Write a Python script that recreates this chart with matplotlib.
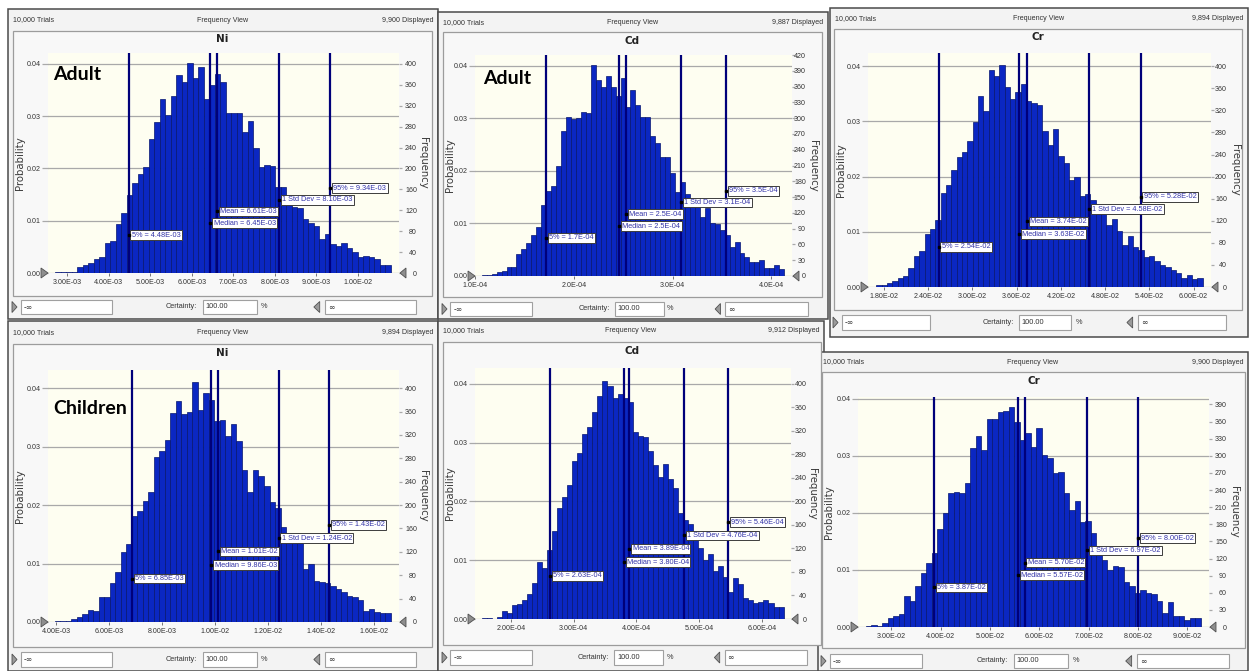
import matplotlib
matplotlib.use("Agg")
import matplotlib.pyplot as plt
from matplotlib.patches import Rectangle, Polygon
import matplotlib.transforms as mtransforms
from matplotlib import font_manager

W, H = 1252, 671

# ------------------------------------------------------------------ data
trials = 10000
trials_label = "10,000 Trials"
view_label = "Frequency View"

# --- Adult Ni
ni_adult_start = 2.704e-3
ni_adult_width = 1.326e-4
ni_adult_prob = [
    0.0002, 0.0001, 0.0002, 0.0002, 0.0012, 0.0015, 0.0020, 0.0026, 0.0031, 0.0058,
    0.0062, 0.0094, 0.0115, 0.0150, 0.0173, 0.0190, 0.0202, 0.0256, 0.0289, 0.0333,
    0.0302, 0.0339, 0.0378, 0.0366, 0.0402, 0.0373, 0.0395, 0.0333, 0.0359, 0.0381,
    0.0366, 0.0307, 0.0306, 0.0306, 0.0270, 0.0290, 0.0240, 0.0202, 0.0206, 0.0205,
    0.0165, 0.0164, 0.0138, 0.0127, 0.0125, 0.0103, 0.0095, 0.0089, 0.0066, 0.0075,
    0.0055, 0.0052, 0.0058, 0.0047, 0.0040, 0.0031, 0.0033, 0.0031, 0.0026, 0.0015, 0.0016]
ni_adult_stats = [4.48e-3, 6.45e-3, 6.61e-3, 8.10e-3, 9.34e-3]
ni_adult_stat_labels = ["5% = 4.48E-03", "Median = 6.45E-03", "Mean = 6.61E-03",
                        "1 Std Dev = 8.10E-03", "95% = 9.34E-03"]
ni_adult_xticks = [3e-3, 4e-3, 5e-3, 6e-3, 7e-3, 8e-3, 9e-3, 1e-2]
ni_adult_xticklabels = ["3.00E-03", "4.00E-03", "5.00E-03", "6.00E-03", "7.00E-03",
                        "8.00E-03", "9.00E-03", "1.00E-02"]
ni_adult_freq_ticks = list(range(0, 401, 40))
ni_adult_displayed = "9,900 Displayed"

# --- Adult Cd
cd_adult_start = 1.068e-4
cd_adult_width = 5.02e-6
cd_adult_prob = [
    0.0002, 0.0002, 0.0004, 0.0007, 0.0010, 0.0017, 0.0017, 0.0042, 0.0051, 0.0062,
    0.0078, 0.0094, 0.0134, 0.0162, 0.0171, 0.0209, 0.0275, 0.0303, 0.0299, 0.0300,
    0.0311, 0.0310, 0.0401, 0.0373, 0.0360, 0.0381, 0.0360, 0.0343, 0.0376, 0.0322,
    0.0354, 0.0325, 0.0303, 0.0303, 0.0266, 0.0252, 0.0227, 0.0227, 0.0195, 0.0160,
    0.0179, 0.0156, 0.0145, 0.0132, 0.0113, 0.0129, 0.0101, 0.0099, 0.0087, 0.0078,
    0.0055, 0.0065, 0.0043, 0.0037, 0.0027, 0.0026, 0.0030, 0.0015, 0.0015, 0.0021, 0.0013]
cd_adult_stats = [1.72e-4, 2.46e-4, 2.53e-4, 3.09e-4, 3.54e-4]
cd_adult_stat_labels = ["5% = 1.7E-04", "Median = 2.5E-04", "Mean = 2.5E-04",
                        "1 Std Dev = 3.1E-04", "95% = 3.5E-04"]
cd_adult_xticks = [1e-4, 2e-4, 3e-4, 4e-4]
cd_adult_xticklabels = ["1.0E-04", "2.0E-04", "3.0E-04", "4.0E-04"]
cd_adult_freq_ticks = list(range(0, 421, 30))
cd_adult_displayed = "9,887 Displayed"

# --- Adult Cr
cr_adult_start = 1.696e-2
cr_adult_width = 7.256e-4
cr_adult_prob = [
    0.0003, 0.0003, 0.0008, 0.0011, 0.0017, 0.0020, 0.0034, 0.0057, 0.0065, 0.0096,
    0.0106, 0.0121, 0.0170, 0.0185, 0.0212, 0.0235, 0.0245, 0.0265, 0.0299, 0.0346,
    0.0319, 0.0394, 0.0383, 0.0402, 0.0363, 0.0340, 0.0354, 0.0367, 0.0337, 0.0334,
    0.0330, 0.0283, 0.0257, 0.0287, 0.0237, 0.0224, 0.0193, 0.0200, 0.0164, 0.0169,
    0.0158, 0.0151, 0.0134, 0.0113, 0.0123, 0.0101, 0.0077, 0.0092, 0.0073, 0.0067,
    0.0055, 0.0056, 0.0048, 0.0040, 0.0037, 0.0031, 0.0025, 0.0016, 0.0022, 0.0014, 0.0017]
cr_adult_stats = [2.54e-2, 3.63e-2, 3.74e-2, 4.58e-2, 5.28e-2]
cr_adult_stat_labels = ["5% = 2.54E-02", "Median = 3.63E-02", "Mean = 3.74E-02",
                        "1 Std Dev = 4.58E-02", "95% = 5.28E-02"]
cr_adult_xticks = [1.8e-2, 2.4e-2, 3.0e-2, 3.6e-2, 4.2e-2, 4.8e-2, 5.4e-2, 6.0e-2]
cr_adult_xticklabels = ["1.80E-02", "2.40E-02", "3.00E-02", "3.60E-02", "4.20E-02",
                        "4.80E-02", "5.40E-02", "6.00E-02"]
cr_adult_freq_ticks = list(range(0, 401, 40))
cr_adult_displayed = "9,894 Displayed"

# --- Children Ni
ni_child_start = 3.937e-3
ni_child_width = 2.081e-4
ni_child_prob = [
    0.0002, 0.0001, 0.0002, 0.0005, 0.0008, 0.0014, 0.0020, 0.0019, 0.0042, 0.0042,
    0.0066, 0.0085, 0.0119, 0.0134, 0.0182, 0.0189, 0.0207, 0.0222, 0.0282, 0.0293,
    0.0312, 0.0358, 0.0378, 0.0355, 0.0360, 0.0410, 0.0363, 0.0391, 0.0380, 0.0343,
    0.0345, 0.0318, 0.0339, 0.0310, 0.0260, 0.0223, 0.0260, 0.0249, 0.0232, 0.0206,
    0.0195, 0.0162, 0.0150, 0.0145, 0.0143, 0.0091, 0.0099, 0.0070, 0.0068, 0.0066,
    0.0062, 0.0057, 0.0052, 0.0045, 0.0042, 0.0037, 0.0019, 0.0022, 0.0017, 0.0015, 0.0015]
ni_child_stats = [6.85e-3, 9.86e-3, 1.01e-2, 1.24e-2, 1.43e-2]
ni_child_stat_labels = ["5% = 6.85E-03", "Median = 9.86E-03", "Mean = 1.01E-02",
                        "1 Std Dev = 1.24E-02", "95% = 1.43E-02"]
ni_child_xticks = [4e-3, 6e-3, 8e-3, 1.0e-2, 1.2e-2, 1.4e-2, 1.6e-2]
ni_child_xticklabels = ["4.00E-03", "6.00E-03", "8.00E-03", "1.00E-02", "1.20E-02",
                        "1.40E-02", "1.60E-02"]
ni_child_freq_ticks = list(range(0, 401, 40))
ni_child_displayed = "9,894 Displayed"

# --- Children Cd
cd_child_start = 1.538e-4
cd_child_width = 8.01e-6
cd_child_prob = [
    0.0001, 0.0001, 0.0000, 0.0004, 0.0014, 0.0011, 0.0023, 0.0026, 0.0033, 0.0042,
    0.0061, 0.0097, 0.0086, 0.0117, 0.0149, 0.0189, 0.0208, 0.0228, 0.0268, 0.0283,
    0.0315, 0.0327, 0.0352, 0.0379, 0.0405, 0.0396, 0.0376, 0.0382, 0.0376, 0.0369,
    0.0318, 0.0311, 0.0310, 0.0285, 0.0262, 0.0242, 0.0263, 0.0238, 0.0223, 0.0180,
    0.0169, 0.0161, 0.0137, 0.0120, 0.0100, 0.0110, 0.0082, 0.0090, 0.0072, 0.0046,
    0.0070, 0.0059, 0.0035, 0.0033, 0.0028, 0.0029, 0.0033, 0.0027, 0.0021, 0.0021]
cd_child_stats = [2.63e-4, 3.80e-4, 3.89e-4, 4.76e-4, 5.46e-4]
cd_child_stat_labels = ["5% = 2.63E-04", "Median = 3.80E-04", "Mean = 3.89E-04",
                        "1 Std Dev = 4.76E-04", "95% = 5.46E-04"]
cd_child_xticks = [2e-4, 3e-4, 4e-4, 5e-4, 6e-4]
cd_child_xticklabels = ["2.00E-04", "3.00E-04", "4.00E-04", "5.00E-04", "6.00E-04"]
cd_child_freq_ticks = list(range(0, 401, 40))
cd_child_displayed = "9,912 Displayed"

# --- Children Cr
cr_child_start = 2.4875e-2
cr_child_width = 1.112e-3
cr_child_prob = [
    0.0002, 0.0003, 0.0002, 0.0007, 0.0015, 0.0019, 0.0022, 0.0054, 0.0046, 0.0071,
    0.0094, 0.0112, 0.0129, 0.0171, 0.0199, 0.0235, 0.0236, 0.0235, 0.0253, 0.0313,
    0.0334, 0.0310, 0.0365, 0.0365, 0.0376, 0.0378, 0.0385, 0.0360, 0.0328, 0.0340,
    0.0316, 0.0348, 0.0301, 0.0296, 0.0269, 0.0272, 0.0235, 0.0205, 0.0220, 0.0184,
    0.0186, 0.0165, 0.0140, 0.0118, 0.0100, 0.0107, 0.0105, 0.0079, 0.0071, 0.0059,
    0.0064, 0.0059, 0.0057, 0.0046, 0.0025, 0.0044, 0.0020, 0.0020, 0.0013, 0.0016, 0.0016]
cr_child_stats = [3.87e-2, 5.57e-2, 5.70e-2, 6.97e-2, 8.00e-2]
cr_child_stat_labels = ["5% = 3.87E-02", "Median = 5.57E-02", "Mean = 5.70E-02",
                        "1 Std Dev = 6.97E-02", "95% = 8.00E-02"]
cr_child_xticks = [3e-2, 4e-2, 5e-2, 6e-2, 7e-2, 8e-2, 9e-2]
cr_child_xticklabels = ["3.00E-02", "4.00E-02", "5.00E-02", "6.00E-02", "7.00E-02",
                        "8.00E-02", "9.00E-02"]
cr_child_freq_ticks = list(range(0, 391, 30))
cr_child_displayed = "9,900 Displayed"

prob_ticks = [0.00, 0.01, 0.02, 0.03, 0.04]
prob_ticklabels = ["0.00", "0.01", "0.02", "0.03", "0.04"]

# ------------------------------------------------------------------ layout
panels = [
    dict(title="Ni", group="Adult", start=ni_adult_start, width=ni_adult_width,
         prob=ni_adult_prob, stats=ni_adult_stats, labels=ni_adult_stat_labels,
         xticks=ni_adult_xticks, xticklabels=ni_adult_xticklabels,
         fticks=ni_adult_freq_ticks, displayed=ni_adult_displayed,
         xlim=(2.535e-3, 1.0993e-2), ymax=0.0421,
         outer=(8, 9, 438, 319), inner=(13, 31, 432, 296), plot=(48, 53, 399, 273),
         header_y=20, title_y=39, ctrl=(300, 314), group_xy=(53, 74), rlab=18, flab=24),
    dict(title="Cd", group="Adult", start=cd_adult_start, width=cd_adult_width,
         prob=cd_adult_prob, stats=cd_adult_stats, labels=cd_adult_stat_labels,
         xticks=cd_adult_xticks, xticklabels=cd_adult_xticklabels,
         fticks=cd_adult_freq_ticks, displayed=cd_adult_displayed,
         xlim=(1.0e-4, 4.21e-4), ymax=0.0420,
         outer=(438, 12, 828, 319), inner=(443, 32, 822, 297), plot=(475, 55, 792, 276),
         header_y=23, title_y=41, ctrl=(302, 316), group_xy=(483, 79), rlab=14, flab=21),
    dict(title="Cr", group=None, start=cr_adult_start, width=cr_adult_width,
         prob=cr_adult_prob, stats=cr_adult_stats, labels=cr_adult_stat_labels,
         xticks=cr_adult_xticks, xticklabels=cr_adult_xticklabels,
         fticks=cr_adult_freq_ticks, displayed=cr_adult_displayed,
         xlim=(1.5825e-2, 6.236e-2), ymax=0.0424,
         outer=(830, 8, 1248, 337), inner=(834, 29, 1242, 310), plot=(868, 53, 1211, 287),
         header_y=19, title_y=37, ctrl=(315, 330), group_xy=None, rlab=16, flab=24),
    dict(title="Ni", group="Children", start=ni_child_start, width=ni_child_width,
         prob=ni_child_prob, stats=ni_child_stats, labels=ni_child_stat_labels,
         xticks=ni_child_xticks, xticklabels=ni_child_xticklabels,
         fticks=ni_child_freq_ticks, displayed=ni_child_displayed,
         xlim=(3.685e-3, 1.6945e-2), ymax=0.0431,
         outer=(8, 321, 438, 671), inner=(13, 344, 432, 647), plot=(48, 370, 399, 622),
         header_y=333, title_y=353, ctrl=(652, 667), group_xy=(53, 408), rlab=18, flab=24),
    dict(title="Cd", group=None, start=cd_child_start, width=cd_child_width,
         prob=cd_child_prob, stats=cd_child_stats, labels=cd_child_stat_labels,
         xticks=cd_child_xticks, xticklabels=cd_child_xticklabels,
         fticks=cd_child_freq_ticks, displayed=cd_child_displayed,
         xlim=(1.431e-4, 6.462e-4), ymax=0.0427,
         outer=(438, 321, 824, 671), inner=(443, 342, 821, 645), plot=(475, 368, 791, 619),
         header_y=331, title_y=351, ctrl=(650, 665), group_xy=None, rlab=16, flab=21),
    dict(title="Cr", group=None, start=cr_child_start, width=cr_child_width,
         prob=cr_child_prob, stats=cr_child_stats, labels=cr_child_stat_labels,
         xticks=cr_child_xticks, xticklabels=cr_child_xticklabels,
         fticks=cr_child_freq_ticks, displayed=cr_child_displayed,
         xlim=(2.326e-2, 9.438e-2), ymax=0.0403,
         outer=(818, 352, 1248, 671), inner=(822, 372, 1245, 648), plot=(858, 397, 1209, 627),
         header_y=362, title_y=381, ctrl=(654, 668), group_xy=None, rlab=18, flab=25),
]

LABEL_LEVELS = [0.172, 0.226, 0.280, 0.333, 0.386]   # axes-fraction heights of stat labels
try:
    font_manager.findfont("Liberation Sans Narrow", fallback_to_default=False)
    NARROW = ["Liberation Sans Narrow", "DejaVu Sans"]
    SMALL = 5.6
except Exception:
    NARROW = ["Liberation Sans", "DejaVu Sans"]
    SMALL = 5.1
TXT = "#333333"
BAR_FC = "#0b27c2"
BAR_EC = "#07166e"
LINE_C = "#00007a"
CREAM = "#fefef1"
PX2PT = 0.72  # points per pixel at 100 dpi

fig = plt.figure(figsize=(W / 100, H / 100), dpi=100)
fig.patch.set_facecolor("white")


def fx(x):
    return x / W


def fy(y):
    return 1 - y / H


def rect(x0, y0, x1, y1, z=-5, **kw):
    fig.add_artist(Rectangle((fx(x0), fy(y1)), (x1 - x0) / W, (y1 - y0) / H,
                             transform=fig.transFigure, zorder=z, **kw))


def text(x, y, s, **kw):
    fig.text(fx(x), fy(y), s, **kw)


def tri(x0, x1, yc, h, pointing, fc="#8e8e8e"):
    if pointing == "right":
        pts = [(x0, yc - h / 2), (x0, yc + h / 2), (x1, yc)]
    else:
        pts = [(x1, yc - h / 2), (x1, yc + h / 2), (x0, yc)]
    fig.add_artist(Polygon([(fx(a), fy(b)) for a, b in pts], closed=True,
                           transform=fig.transFigure, fc=fc, ec="#505050", lw=0.6,
                           zorder=10))


for p in panels:
    ox0, oy0, ox1, oy1 = p["outer"]
    ix0, iy0, ix1, iy1 = p["inner"]
    px0, py0, px1, py1 = p["plot"]
    rect(ox0, oy0, ox1, oy1, z=-6, fc="#f3f3f3", ec="#4a4a4a", lw=1.1)
    rect(ix0, iy0, ix1, iy1, z=-5, fc="#f8f8f8", ec="#9c9c9c", lw=0.9)

    hy = p["header_y"]
    text(ox0 + 5, hy, trials_label, ha="left", va="center", fontsize=SMALL, family=NARROW, color=TXT)
    text((ox0 + ox1) / 2, hy, view_label, ha="center", va="center", fontsize=SMALL, family=NARROW, color=TXT)
    text(ox1 - 5, hy, p["displayed"], ha="right", va="center", fontsize=SMALL, family=NARROW, color=TXT)
    text((ix0 + ix1) / 2, p["title_y"], p["title"], ha="center", va="center", fontsize=7.5,
         fontweight="bold", color="#222222")

    ax = fig.add_axes([fx(px0), fy(py1), (px1 - px0) / W, (py1 - py0) / H])
    ax.set_facecolor(CREAM)
    lefts = [p["start"] + i * p["width"] for i in range(len(p["prob"]))]
    ax.bar(lefts, p["prob"], width=p["width"], align="edge", color=BAR_FC,
           edgecolor=BAR_EC, linewidth=0.5, zorder=2)
    ax.set_xlim(*p["xlim"])
    ax.set_ylim(0, p["ymax"])
    ax.set_yticks(prob_ticks)
    ax.set_yticklabels(prob_ticklabels)
    ax.set_xticks(p["xticks"])
    ax.set_xticklabels(p["xticklabels"])
    ax.yaxis.grid(True, color="#a9a9a9", lw=0.9, zorder=0)
    ax.set_axisbelow(True)
    for s in ax.spines.values():
        s.set_visible(False)
    ax.tick_params(axis="y", direction="out", length=4, width=0.9, color="#a9a9a9",
                   labelsize=SMALL, labelcolor=TXT, pad=1)
    ax.tick_params(axis="x", direction="out", length=2.5, width=0.6, color="#606060",
                   labelsize=SMALL, labelcolor=TXT, pad=2)
    for lab in ax.get_xticklabels() + ax.get_yticklabels():
        lab.set_family(NARROW)

    ax2 = ax.twinx()
    ax2.set_ylim(0, p["ymax"] * trials)
    ax2.set_yticks(p["fticks"])
    ax2.set_yticklabels([str(v) for v in p["fticks"]])
    for s in ax2.spines.values():
        s.set_visible(False)
    tick_len = 2.5
    ax2.tick_params(axis="y", direction="out", length=tick_len, width=0.9, color="#a9a9a9",
                    labelsize=SMALL, labelcolor=TXT, pad=p["rlab"] * PX2PT - tick_len)
    for lab in ax2.get_yticklabels():
        lab.set_family(NARROW)
        lab.set_horizontalalignment("right")

    blend = mtransforms.blended_transform_factory(ax.transData, ax.transAxes)
    for v in p["stats"]:
        ax.axvline(v, color=LINE_C, lw=1.6, zorder=3)
    for v, s, lev in zip(p["stats"], p["labels"], LABEL_LEVELS):
        ax.plot([v], [lev], marker="s", ms=1.6, color="black", transform=blend, zorder=6,
                clip_on=False)
        ax.annotate(s, xy=(v, lev), xycoords=blend, xytext=(2.2, 0),
                    textcoords="offset points", ha="left", va="center", fontsize=5.3,
                    family=NARROW, color="#3434a8", zorder=5,
                    bbox=dict(boxstyle="square,pad=0.18", fc="white", ec="#3c3c3c", lw=0.7))

    # axis labels
    text(ix0 + 7, (py0 + py1) / 2, "Probability", rotation=90, ha="center", va="center",
         fontsize=7.3, color="#3a3a3a")
    text(px1 + p["flab"], (py0 + py1) / 2, "Frequency", rotation=270, ha="center", va="center",
         fontsize=7.3, color="#3a3a3a")

    # range grabbers
    tri(px0 - 7, px0, py1, 10, "right")
    tri(px1 + 1, px1 + 7, py1, 10, "left")

    # bottom controls
    w = ix1 - ix0
    cy0, cy1 = p["ctrl"]
    cyc = (cy0 + cy1) / 2
    tri(ix0 - 1, ix0 + 4, cyc, 11, "right", fc="#9a9a9a")
    rect(ix0 + 0.019 * w, cy0, ix0 + 0.236 * w, cy1, z=-4, fc="white", ec="#a0a0a0", lw=0.8)
    text(ix0 + 0.019 * w + 3, cyc, "-\u221e", ha="left", va="center", fontsize=5.6, color=TXT)
    text(ix0 + 0.44 * w, cyc, "Certainty:", ha="right", va="center", fontsize=SMALL + 0.2,
         family=NARROW, color=TXT)
    rect(ix0 + 0.453 * w, cy0, ix0 + 0.582 * w, cy1, z=-4, fc="white", ec="#a0a0a0", lw=0.8)
    text(ix0 + 0.453 * w + 3, cyc, "100.00", ha="left", va="center", fontsize=SMALL + 0.2,
         family=NARROW, color=TXT)
    text(ix0 + 0.60 * w, cyc, "%", ha="center", va="center", fontsize=SMALL + 0.2,
         family=NARROW, color=TXT)
    tri(ix0 + 0.718 * w, ix0 + 0.732 * w, cyc, 11, "left", fc="#9a9a9a")
    rect(ix0 + 0.745 * w, cy0, ix0 + 0.962 * w, cy1, z=-4, fc="white", ec="#a0a0a0", lw=0.8)
    text(ix0 + 0.745 * w + 3, cyc, "\u221e", ha="left", va="center", fontsize=5.6, color=TXT)

    if p["group"]:
        gx, gy = p["group_xy"]
        text(gx, gy, p["group"], ha="left", va="center", fontsize=14, fontweight="bold",
             family=["Lato", "DejaVu Sans"], color="black")

fig.savefig("out.png", dpi=100, facecolor="white")
